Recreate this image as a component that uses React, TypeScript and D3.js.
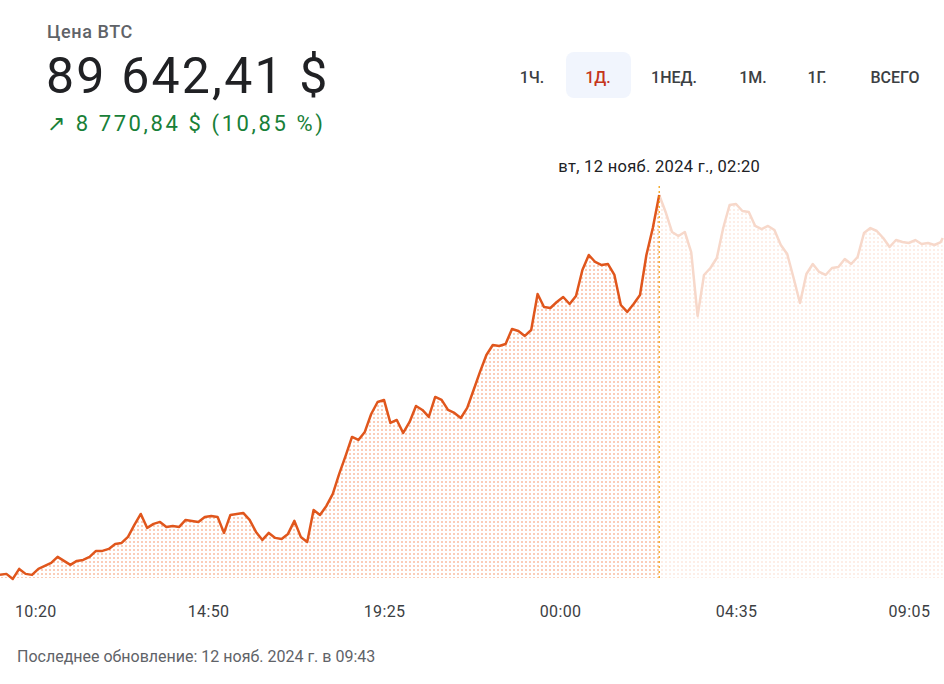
import * as React from 'react';
import * as d3 from 'd3';

// BTC price, 10-minute steps from 09:10 (11 Nov) to 09:40 (12 Nov), then last value at 09:43
const prices = [
  80872, 80895, 80779, 81010, 80895, 80872, 81010, 81079, 81149, 81287,
  81195, 81102, 81195, 81218, 81287, 81426, 81426, 81472, 81587, 81610,
  81749, 82026, 82279, 81956, 82049, 82095, 81979, 82003, 81979, 82141,
  82118, 82095, 82210, 82233, 82210, 81841, 82256, 82279, 82303, 82141,
  81864, 81679, 81841, 81726, 81702, 81818, 82118, 81749, 81633, 82372,
  82256, 82464, 82741, 83203, 83618, 84057, 83987, 84172, 84587, 84864,
  84911, 84380, 84449, 84149, 84403, 84772, 84680, 84518, 84980, 84911,
  84680, 84611, 84495, 84726, 85141, 85557, 85949, 86180, 86157, 86203,
  86549, 86503, 86388, 86526, 87357, 87057, 87034, 87172, 87288, 87126,
  87311, 87911, 88257, 88096, 88026, 88049, 87796, 87103, 86942, 87126,
  87334, 88257, 88880, 89642.41, 89250, 88788, 88696, 88788, 88326, 86850,
  87796, 87957, 88188, 88880, 89411, 89434, 89273, 89250, 88927, 88857,
  88927, 88834, 88488, 88280, 87726, 87150, 87819, 88049, 87865, 87796,
  87957, 87980, 88165, 88049, 88211, 88765, 88880, 88811, 88650, 88442,
  88603, 88557, 88534, 88603, 88511, 88534, 88488, 88557, 88650,
];

const startTime = new Date(2024, 10, 11, 9, 10);
const endTime = new Date(2024, 10, 12, 9, 45);
const lastTime = new Date(2024, 10, 12, 9, 43);
const times = prices.map((_, i) =>
  i === prices.length - 1 ? lastTime : d3.timeMinute.offset(startTime, i * 10)
);

const hoverIndex = 103; // вт, 12 нояб. 02:20

const tickTimes = [
  new Date(2024, 10, 11, 10, 20),
  new Date(2024, 10, 11, 14, 50),
  new Date(2024, 10, 11, 19, 25),
  new Date(2024, 10, 12, 0, 0),
  new Date(2024, 10, 12, 4, 35),
  new Date(2024, 10, 12, 9, 5),
];
const tickLabels = ['10:20', '14:50', '19:25', '00:00', '04:35', '09:05'];

const ranges = ['1Ч.', '1Д.', '1НЕД.', '1М.', '1Г.', 'ВСЕГО'];
const rangeCenters = [532, 598, 674, 753, 817, 895];
const activeRange = 1;

type Pt = { t: Date; v: number };

export default function App() {
  const width = 944;
  const height = 684;
  const baseY = 578;
  const font = 'Roboto, "Noto Sans", sans-serif';

  const data: Pt[] = prices.map((v, i) => ({ t: times[i], v }));

  const x = d3.scaleTime().domain([startTime, endTime]).range([0, width]);
  const y = d3.scaleLinear().domain([80800, 89700]).range([baseY, 192.5]);

  const line = d3.line<Pt>().x((d) => x(d.t)).y((d) => y(d.v));
  const area = d3.area<Pt>().x((d) => x(d.t)).y0(baseY).y1((d) => y(d.v));

  const hx = x(data[hoverIndex].t);
  const left = data.slice(0, hoverIndex + 1);
  const right = data.slice(hoverIndex);

  return (
    <svg
      width={width}
      height={height}
      style={{ position: 'absolute', left: 0, top: 0, background: '#fff' }}
      fontFamily={font}
    >
      <defs>
        <pattern id="dotsStrong" width={4} height={4} patternUnits="userSpaceOnUse">
          <rect x={1} y={1} width={2} height={2} fill="#fbcdb8" />
        </pattern>
        <pattern id="dotsLight" width={4} height={4} patternUnits="userSpaceOnUse">
          <rect x={1} y={1} width={2} height={2} fill="#fdeee7" />
        </pattern>
      </defs>

      {/* header */}
      <text x={47} y={38} fontSize={18} fontWeight={500} fill="#5f6368" letterSpacing={0.6}>Цена BTC</text>
      <text x={46} y={93} fontSize={50} fill="#202124" letterSpacing={2.2}>89 642,41 $</text>
      <text x={47} y={131} fontSize={22} fill="#188038" letterSpacing={2.6}>↗ 8 770,84 $ (10,85 %)</text>

      {/* range tabs */}
      <rect x={566} y={52} width={65} height={46} rx={8} fill="#f1f5fd" />
      {ranges.map((r, i) => (
        <text
          key={r}
          x={rangeCenters[i]}
          y={83}
          textAnchor="middle"
          fontSize={16}
          fontWeight={500}
          fill={i === activeRange ? '#c5351b' : '#3c4043'}
        >
          {r}
        </text>
      ))}

      {/* area fill */}
      <path d={area(left) ?? ''} fill="url(#dotsStrong)" />
      <path d={area(right) ?? ''} fill="url(#dotsLight)" />

      {/* lines */}
      <path d={line(right) ?? ''} fill="none" stroke="#f7d8ca" strokeWidth={2.5} strokeLinejoin="round" />
      <path d={line(left) ?? ''} fill="none" stroke="#e0561c" strokeWidth={2.5} strokeLinejoin="round" />

      {/* hover marker */}
      <line x1={hx} x2={hx} y1={186} y2={baseY} stroke="#f29900" strokeWidth={1.2} strokeDasharray="2,3" />
      <text x={hx} y={172} textAnchor="middle" fontSize={16.5} fill="#202124" letterSpacing={0.3}>
        вт, 12 нояб. 2024 г., 02:20
      </text>

      {/* x axis labels */}
      {tickTimes.map((t, i) => (
        <text key={tickLabels[i]} x={x(t) - 9} y={617} textAnchor="middle" fontSize={16} fill="#3c4043" letterSpacing={0.4}>
          {tickLabels[i]}
        </text>
      ))}

      <text x={17} y={662} fontSize={16} fill="#5f6368">
        Последнее обновление: 12 нояб. 2024 г. в 09:43
      </text>
    </svg>
  );
}
